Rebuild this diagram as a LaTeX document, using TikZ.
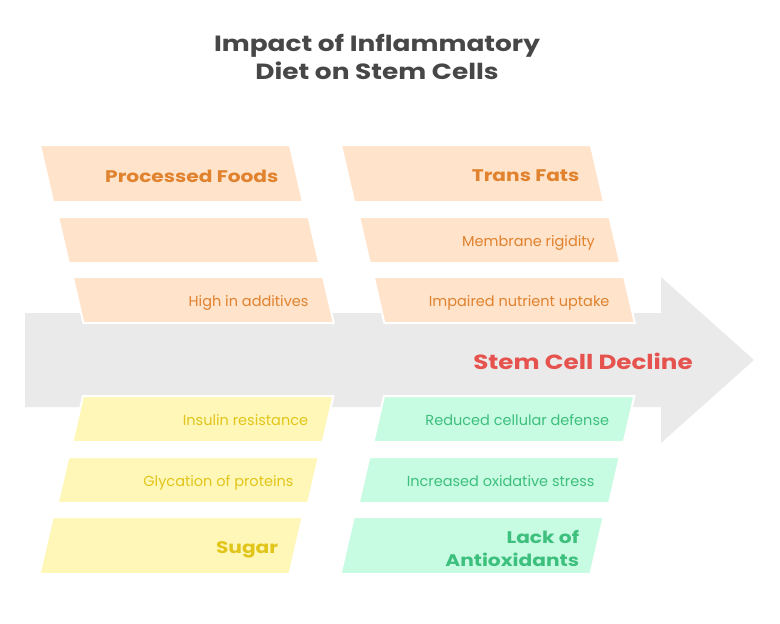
\documentclass[tikz,border=0pt]{standalone}
\usepackage{fontspec}
\setmainfont{Poppins}
\newfontfamily\headfont{Poppins}[FakeStretch=1.2]
\usetikzlibrary{positioning,shapes.geometric}
\newcommand{\DietRowGap}{15pt}
\definecolor{peachfill}{HTML}{FFE3CA}
\definecolor{orangetext}{HTML}{E0822E}
\definecolor{yellowfill}{HTML}{FFF7B8}
\definecolor{yellowtext}{HTML}{E1C51A}
\definecolor{greenfill}{HTML}{C7FCE2}
\definecolor{greentext}{HTML}{3DBF7D}
\definecolor{arrowgrey}{HTML}{EAEAEA}
\definecolor{redtext}{HTML}{E6534E}
\definecolor{titlegrey}{HTML}{474747}
\tikzset{
  causebox/.style={trapezium, trapezium stretches body, draw=white, line width=2pt,
    inner xsep=0pt, inner ysep=23pt, outer sep=0pt, minimum width=261pt},
  upbox/.style={causebox, trapezium left angle=103, trapezium right angle=77},
  downbox/.style={causebox, trapezium left angle=77, trapezium right angle=103},
  headbox/.style={inner ysep=28.5pt, minimum width=263pt},
  headtext/.style={inner sep=0pt, outer sep=0pt, text depth=0pt, yshift=-2.5pt,
    font=\headfont\bfseries\fontsize{16.8}{23}\selectfont, align=right},
  itemtext/.style={inner sep=0pt, outer sep=0pt, text depth=0pt, yshift=-1pt,
    font=\fontsize{14.5}{16}\selectfont},
}

\begin{document}
\begin{tikzpicture}[x=1pt, y=-1pt]
	\useasboundingbox (0,0) rectangle (780,624);
	% spine
	\fill[arrowgrey] (25,313) -- (661,313) -- (661,277) -- (754,360) -- (661,443) -- (661,407) -- (25,407) -- cycle;
	\node[font=\headfont\bfseries\fontsize{22}{28}\selectfont, text=titlegrey, align=center] (title) at (377,57) {Impact of Inflammatory\\Diet on Stem Cells};
	\node[font=\headfont\bfseries\fontsize{20.5}{24}\selectfont, text=redtext, inner sep=0pt] (effect) at (583,361) {Stem Cell Decline};
	% upper causes
	\node[upbox, headbox, fill=peachfill, anchor=top left corner] (proc) at (40,145) {};
	\node[upbox, fill=peachfill, anchor=top left corner] (proc2) at ([xshift=5pt, yshift=-\DietRowGap]proc.bottom left corner) {};
	\node[upbox, fill=peachfill, anchor=top left corner] (proc3) at ([xshift=4pt, yshift=-14pt]proc2.bottom left corner) {};
	\node[upbox, headbox, fill=peachfill, anchor=top left corner] (trans) at (341,145) {};
	\node[upbox, fill=peachfill, anchor=top left corner] (trans2) at ([xshift=5pt, yshift=-\DietRowGap]trans.bottom left corner) {};
	\node[upbox, fill=peachfill, anchor=top left corner] (trans3) at ([xshift=4pt, yshift=-14pt]trans2.bottom left corner) {};
	% lower causes
	\node[downbox, fill=yellowfill, anchor=top left corner] (sugar3) at (83,396) {};
	\node[downbox, fill=yellowfill, anchor=top left corner] (sugar2) at ([xshift=-4pt, yshift=-\DietRowGap]sugar3.bottom left corner) {};
	\node[downbox, headbox, fill=yellowfill, anchor=top left corner] (sugar) at ([xshift=-5pt, yshift=-14pt]sugar2.bottom left corner) {};
	\node[downbox, fill=greenfill, anchor=top left corner] (anti3) at (384,396) {};
	\node[downbox, fill=greenfill, anchor=top left corner] (anti2) at ([xshift=-4pt, yshift=-\DietRowGap]anti3.bottom left corner) {};
	\node[downbox, headbox, fill=greenfill, anchor=top left corner] (anti) at ([xshift=-5pt, yshift=-14pt]anti2.bottom left corner) {};
	% labels
	\node[headtext, text=orangetext, left=18pt of proc.east] (proct) {Processed Foods};
	\node[itemtext, text=orangetext, left=20pt of proc3.east] (proc3t) {High in additives};
	\node[headtext, text=orangetext, left=18pt of trans.east] (transt) {Trans Fats};
	\node[itemtext, text=orangetext, left=20pt of trans2.east] (trans2t) {Membrane rigidity};
	\node[itemtext, text=orangetext, left=20pt of trans3.east] (trans3t) {Impaired nutrient uptake};
	\node[itemtext, text=yellowtext, left=20pt of sugar3.east] (sugar3t) {Insulin resistance};
	\node[itemtext, text=yellowtext, left=20pt of sugar2.east] (sugar2t) {Glycation of proteins};
	\node[headtext, text=yellowtext, left=18pt of sugar.east] (sugart) {Sugar};
	\node[itemtext, text=greentext, left=20pt of anti3.east] (anti3t) {Reduced cellular defense};
	\node[itemtext, text=greentext, left=20pt of anti2.east] (anti2t) {Increased oxidative stress};
	\node[headtext, text=greentext, left=18pt of anti.east] (antit) {Lack of\\Antioxidants};
\end{tikzpicture}
\end{document}
